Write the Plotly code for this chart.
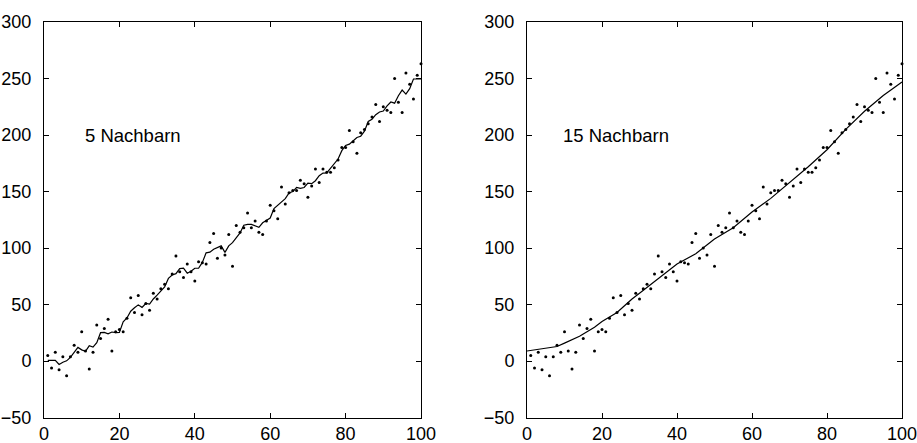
import numpy as np
import plotly.graph_objects as go

# data points (same sample shown in both panels)
x_vals = list(range(1, 101))
y_vals = [5, -6, 8, -7.5, 4, -13, 4, 14, 8, 26,
          9, -7, 8, 32, 20, 29, 37, 9, 26, 28,
          26, 38, 56, 43, 58, 41, 51, 45, 60, 55,
          64, 68, 64, 77, 93, 79, 74, 86, 79, 71,
          88, 87, 86, 105, 113, 91, 100, 94, 112, 84,
          120, 114, 118, 131, 118, 124, 114, 112, 124, 138,
          133, 126, 154, 139, 149, 151, 151, 160, 157, 145,
          155, 170, 158, 170, 167, 167, 171, 178, 189, 189,
          204, 194, 184, 202, 205, 210, 216, 227, 212, 225,
          222, 220, 250, 229, 220, 255, 245, 232, 253, 263]

# smoothed curve of the right panel (15 neighbours)
smooth15_x = [0, 2, 4, 6, 8, 10, 12, 14, 16, 18, 20, 22, 24, 26, 28, 30,
              35, 40, 45, 50, 55, 60, 65, 70, 75, 80, 85, 90, 95, 100]
smooth15_y = [9, 10, 10.5, 12, 13, 16, 19, 22, 26, 30, 35, 39, 43, 49, 55, 60,
              73, 86, 95, 108, 118, 132, 144, 158, 172, 187, 205, 221, 235, 247]

neighbours_left = 5
panel_labels = ["5 Nachbarn", "15 Nachbarn"]
x_ticks = [0, 20, 40, 60, 80, 100]
y_ticks = [-50, 0, 50, 100, 150, 200, 250, 300]


def knn_smooth(xs, ys, k):
    xs = np.asarray(xs, float)
    ys = np.asarray(ys, float)
    out = []
    for x0 in xs:
        idx = np.argsort(np.abs(xs - x0), kind="stable")[:k]
        out.append(ys[idx].mean())
    return out


W, H = 917, 443
x_domains = [[44 / W, 421 / W], [527 / W, 902 / W]]
y_domain = [1 - 417.7 / H, 1 - 22 / H]
label_x = [10.3, 9.1]

fig = go.Figure()
tick_font = dict(family="Liberation Sans, Arial, sans-serif", size=18, color="black")
text_font = dict(family="Liberation Sans, Arial, sans-serif", size=18.5, color="black")

lines = [
    (x_vals, knn_smooth(x_vals, y_vals, neighbours_left)),
    (smooth15_x, smooth15_y),
]

for i in range(2):
    xa = "x" if i == 0 else "x2"
    ya = "y" if i == 0 else "y2"
    fig.add_trace(go.Scatter(x=x_vals, y=y_vals, mode="markers",
                             marker=dict(color="black", size=3),
                             xaxis=xa, yaxis=ya, showlegend=False, cliponaxis=False))
    fig.add_trace(go.Scatter(x=lines[i][0], y=lines[i][1], mode="lines",
                             line=dict(color="black", width=1.2),
                             xaxis=xa, yaxis=ya, showlegend=False))
    fig.add_annotation(x=label_x[i], y=200, xref=xa, yref=ya, text=panel_labels[i],
                       showarrow=False, xanchor="left", yanchor="middle", font=text_font)

axis_common = dict(showline=True, linecolor="black", linewidth=1, mirror="ticks",
                   ticks="inside", ticklen=5, tickcolor="black", tickwidth=1,
                   showgrid=False, zeroline=False, tickfont=tick_font, automargin=False,
                   ticklabeloverflow="allow")
x_common = dict(range=[0, 100], tickvals=x_ticks, **axis_common)
y_common = dict(range=[-50, 300], tickvals=y_ticks, ticklabelstandoff=8, **axis_common)

fig.update_layout(
    width=W, height=H,
    margin=dict(l=0, r=0, t=0, b=0, autoexpand=False),
    paper_bgcolor="white", plot_bgcolor="white",
    xaxis=dict(domain=x_domains[0], anchor="y", **x_common),
    yaxis=dict(domain=y_domain, anchor="x", **y_common),
    xaxis2=dict(domain=x_domains[1], anchor="y2", **x_common),
    yaxis2=dict(domain=y_domain, anchor="x2", **y_common),
)

fig.write_html("out.html", config={"displayModeBar": False},
               post_script="document.body.style.margin='0';document.body.style.overflow='hidden';")
